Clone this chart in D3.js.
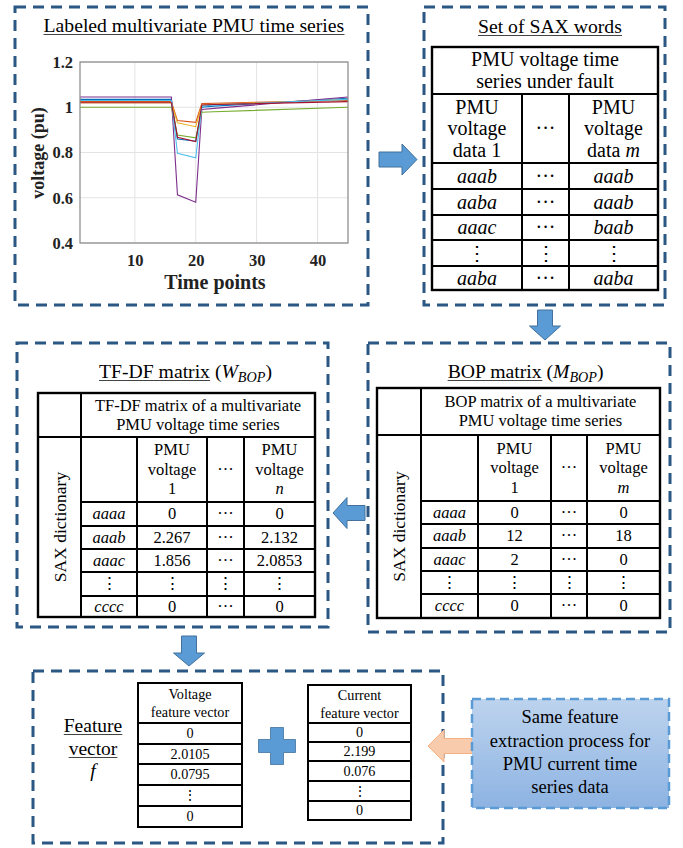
<!DOCTYPE html>
<html><head><meta charset="utf-8">
<script src="https://cdn.jsdelivr.net/npm/d3@7"></script>
</head>
<body style="margin:0;background:#fff">
<svg id="c" width="683" height="848" style="display:block"></svg>
<script>
// ---------------- DATA ----------------
const timePoints = [1, 16, 17, 20, 21, 23, 45];
const seriesNames = ["blue","orange","yellow","purple","green","cyan","red"];
const seriesColors = ["#0072BD","#D95319","#EDB120","#7E2F8E","#77AC30","#4DBEEE","#A2142F"];
const blueV   = [1.035, 1.035, 0.860, 0.850, 1.000, 1.005, 1.040];
const orangeV = [1.025, 1.025, 0.941, 0.933, 1.016, 1.018, 1.030];
const yellowV = [1.020, 1.020, 0.931, 0.914, 1.010, 1.012, 1.035];
const purpleV = [1.045, 1.045, 0.613, 0.580, 0.990, 0.995, 1.045];
const greenV  = [1.000, 1.000, 0.877, 0.865, 0.978, 0.980, 1.000];
const cyanV   = [1.030, 1.030, 0.796, 0.777, 1.005, 1.010, 1.035];
const redV    = [1.020, 1.020, 0.867, 0.848, 1.010, 1.012, 1.025];
const seriesValues = [blueV, orangeV, yellowV, purpleV, greenV, cyanV, redV];
const xTicks = [10, 20, 30, 40];
const yTicks = [0.4, 0.6, 0.8, 1, 1.2];

const saxHeader = ["PMU voltage time", "series under fault"];
const saxColHeads = [["PMU","voltage","data 1"], ["···"], ["PMU","voltage","data m"]];
const saxRows = [["aaab","···","aaab"],["aaba","···","aaab"],["aaac","···","baab"],["⋮","⋮","⋮"],["aaba","···","aaba"]];

const tfHeader = ["TF-DF matrix of a multivariate", "PMU voltage time series"];
const tfColHeads = [[], ["PMU","voltage","1"], ["···"], ["PMU","voltage","n"]];
const tfRows = [["aaaa","0","···","0"],["aaab","2.267","···","2.132"],["aaac","1.856","···","2.0853"],["⋮","⋮","⋮","⋮"],["cccc","0","···","0"]];

const bopHeader = ["BOP matrix of a multivariate", "PMU voltage time series"];
const bopColHeads = [[], ["PMU","voltage","1"], ["···"], ["PMU","voltage","m"]];
const bopRows = [["aaaa","0","···","0"],["aaab","12","···","18"],["aaac","2","···","0"],["⋮","⋮","⋮","⋮"],["cccc","0","···","0"]];

const voltHeader = ["Voltage", "feature vector"];
const voltVec = ["0","2.0105","0.0795","⋮","0"];
const currHeader = ["Current", "feature vector"];
const currVec = ["0","2.199","0.076","⋮","0"];
const sideText = ["Same feature","extraction process for","PMU current time","series data"];

// ---------------- DRAW ----------------
const FONT = "'Liberation Serif'";
const svg = d3.select("#c");
const DASH = "#2A5783";
const ABLUE = "#5B9BD5", ABORDER = "#41719C";
const italicWords = new Set(["aaaa","aaab","aaba","aaac","baab","cccc","m","n"]);

// approximate Times advance widths (1/1000 em), used instead of DOM measurement
const CW = {" ":250,a:444,b:500,c:444,d:500,e:444,f:333,g:500,h:500,i:278,j:278,k:500,l:278,m:778,n:500,o:500,p:500,q:500,r:333,s:389,t:278,u:500,v:500,w:722,x:500,y:500,z:444,
  A:722,B:667,C:667,D:722,E:611,F:556,G:722,H:722,I:333,J:389,K:722,L:611,M:889,N:722,O:722,P:556,Q:722,R:667,S:556,T:611,U:722,V:722,W:944,X:722,Y:722,Z:611,"-":333,"(":333,")":333,".":250};
function tw(str,size){ let s=0; for(const ch of str) s += (CW[ch]||500); return s*size/1000; }

function T(sel){ return sel.append("text").attr("font-size",16).style("font-family",FONT); }
function dashedBox(x0,y0,x1,y1){
  svg.append("rect").attr("x",x0).attr("y",y0).attr("width",x1-x0).attr("height",y1-y0)
    .attr("fill","none").attr("stroke",DASH).attr("stroke-width",3).attr("stroke-dasharray","11,7");
}
function title(cx, y, main, sub, size){
  const mw = tw(main,size);
  let w = mw;
  if (sub) w += tw(" (",size) + tw(sub[0],size)*0.9 + tw(sub[1],size*0.72)*0.95 + tw(")",size);
  const x0 = cx - w/2;
  const t = T(svg).attr("x",x0).attr("y",y).attr("font-size",size);
  t.append("tspan").text(main);
  if (sub){
    t.append("tspan").text(" (");
    t.append("tspan").attr("font-style","italic").text(sub[0]);
    t.append("tspan").attr("font-style","italic").attr("font-size",size*0.72).attr("dy",4).text(sub[1]);
    t.append("tspan").attr("dy",-4).text(")");
  }
  svg.append("line").attr("x1",x0).attr("x2",x0+mw).attr("y1",y+2.5).attr("y2",y+2.5)
    .attr("stroke","#444").attr("stroke-width",1);
}
function multiText(cx, cy, lines, size, lh){
  const n = lines.length;
  lines.forEach((ln,i)=>{
    const y = cy + (i-(n-1)/2)*lh + size*0.33;
    const t = T(svg).attr("x",cx).attr("y",y).attr("text-anchor","middle").attr("font-size",size);
    const parts = ln.split(" ");
    const last = parts[parts.length-1];
    if (parts.length>1 && (last==="m"||last==="n")){
      t.append("tspan").text(parts.slice(0,-1).join(" ")+" ");
      t.append("tspan").attr("font-style","italic").text(last);
    } else {
      t.text(ln);
      if (italicWords.has(ln)) t.attr("font-style","italic");
    }
  });
}
function hline(x0,x1,y,w,c){ svg.append("line").attr("x1",x0).attr("x2",x1).attr("y1",y).attr("y2",y).attr("stroke",c||"#000").attr("stroke-width",w||1.6); }
function vline(x,y0,y1,w){ svg.append("line").attr("x1",x).attr("x2",x).attr("y1",y0).attr("y2",y1).attr("stroke","#000").attr("stroke-width",w||1.6); }
function outline(x0,y0,x1,y1,w){ svg.append("rect").attr("x",x0).attr("y",y0).attr("width",x1-x0).attr("height",y1-y0).attr("fill","none").attr("stroke","#000").attr("stroke-width",w||2.2); }
function arrow(points, fill, stroke){
  svg.append("path").attr("d", d3.line()(points)+"Z").attr("fill",fill).attr("stroke",stroke).attr("stroke-width",1);
}
function rightArrow(x0,x1,cy,sh,hh,hl,fill,stroke){
  arrow([[x0,cy-sh/2],[x1-hl,cy-sh/2],[x1-hl,cy-hh/2],[x1,cy],[x1-hl,cy+hh/2],[x1-hl,cy+sh/2],[x0,cy+sh/2]],fill,stroke);
}
function leftArrow(x0,x1,cy,sh,hh,hl,fill,stroke){
  arrow([[x1,cy-sh/2],[x0+hl,cy-sh/2],[x0+hl,cy-hh/2],[x0,cy],[x0+hl,cy+hh/2],[x0+hl,cy+sh/2],[x1,cy+sh/2]],fill,stroke);
}
function downArrow(cx,y0,y1,sw,hw,hl,fill,stroke){
  arrow([[cx-sw/2,y0],[cx+sw/2,y0],[cx+sw/2,y1-hl],[cx+hw/2,y1-hl],[cx,y1],[cx-hw/2,y1-hl],[cx-sw/2,y1-hl]],fill,stroke);
}

const titleFS = 19.7, saxFS = 20, matFS = 16.5, vecFS = 14.2, featFS = 19.5, sideFS = 18.5;
const tickFS = 16.5, xlabFS = 20, ylabFS = 18, dictFS = 17.5;

// ---- Box 1: chart ----
dashedBox(15,7,368,305);
title(194,32,"Labeled multivariate PMU time series",null,titleFS);
const x = d3.scaleLinear().domain([1,45]).range([80,348]);
const y = d3.scaleLinear().domain([0.4,1.2]).range([243,62]);
const g = svg.append("g");
g.selectAll(".gx").data(xTicks).enter().append("line").attr("x1",d=>x(d)).attr("x2",d=>x(d)).attr("y1",y(0.4)).attr("y2",y(1.2)).attr("stroke","#e3e3e3").attr("stroke-width",1);
g.selectAll(".gy").data(yTicks).enter().append("line").attr("y1",d=>y(d)).attr("y2",d=>y(d)).attr("x1",x(1)).attr("x2",x(45)).attr("stroke","#e3e3e3").attr("stroke-width",1);
const line = d3.line().x((d,i)=>x(timePoints[i])).y(d=>y(d));
seriesValues.forEach((vals,k)=>{
  g.append("path").attr("d",line(vals)).attr("fill","none").attr("stroke",seriesColors[k]).attr("stroke-width",1.1);
});
const fmt = d3.format("~g");
const xa = g.append("g").attr("transform",`translate(0,${y(0.4)})`).call(d3.axisBottom(x).tickValues(xTicks).tickSize(0).tickPadding(11).tickFormat(fmt));
const ya = g.append("g").attr("transform",`translate(${x(1)},0)`).call(d3.axisLeft(y).tickValues(yTicks).tickSize(0).tickPadding(7).tickFormat(fmt));
[xa,ya].forEach(a=>{ a.attr("font-family",null).attr("font-size",null); a.select(".domain").remove(); a.selectAll("text").attr("font-size",tickFS).attr("font-weight","bold").style("font-family",FONT).attr("fill","#222"); });
g.append("rect").attr("x",x(1)).attr("y",y(1.2)).attr("width",x(45)-x(1)).attr("height",y(0.4)-y(1.2)).attr("fill","none").attr("stroke","#888").attr("stroke-width",1.2);
T(svg).attr("x",215).attr("y",289).attr("text-anchor","middle").attr("font-size",xlabFS).attr("font-weight","bold").attr("fill","#222").text("Time points");
T(svg).attr("transform","translate(44,153) rotate(-90)").attr("text-anchor","middle").attr("font-size",ylabFS).attr("font-weight","bold").attr("fill","#222").text("voltage (pu)");

rightArrow(379,417,159.5,15,31,15,ABLUE,ABORDER);

// ---- Box 2: SAX words ----
dashedBox(424,7,665,305);
title(550,33,"Set of SAX words",null,titleFS);
{
  const cols=[432,522,569,658], rows=[47,94,163,189,215,240,266,290];
  outline(cols[0],rows[0],cols[3],rows[7],2.4);
  rows.slice(1,-1).forEach(r=>hline(cols[0],cols[3],r,2));
  vline(cols[1],rows[1],rows[7],2); vline(cols[2],rows[1],rows[7],2);
  multiText((cols[0]+cols[3])/2,(rows[0]+rows[1])/2,saxHeader,saxFS,21.5);
  saxColHeads.forEach((h,i)=>multiText((cols[i]+cols[i+1])/2,(rows[1]+rows[2])/2,h,saxFS,21.5));
  saxRows.forEach((r,j)=>r.forEach((c,i)=>multiText((cols[i]+cols[i+1])/2,(rows[j+2]+rows[j+3])/2,[c],saxFS,20)));
}
downArrow(545,310,340,15,31,14,ABLUE,ABORDER);

function matrixTable(cols,rows,header,colHeads,data,fs){
  outline(cols[0],rows[0],cols[5],rows[7],2.4);
  hline(cols[0],cols[5],rows[1],2);
  rows.slice(2,-1).forEach(r=>hline(cols[1],cols[5],r,2));
  vline(cols[1],rows[0],rows[7],2);
  [2,3,4].forEach(i=>vline(cols[i],rows[1],rows[7],2));
  multiText((cols[1]+cols[5])/2,(rows[0]+rows[1])/2,header,fs,19);
  colHeads.forEach((h,i)=>{ if(h.length) multiText((cols[i+1]+cols[i+2])/2,(rows[1]+rows[2])/2,h,fs,19.5); });
  data.forEach((r,j)=>r.forEach((c,i)=>multiText((cols[i+1]+cols[i+2])/2,(rows[j+2]+rows[j+3])/2,[c],fs,18)));
  const cx=(cols[0]+cols[1])/2, cy=(rows[1]+rows[7])/2;
  T(svg).attr("transform",`translate(${cx+6},${cy}) rotate(-90)`).attr("text-anchor","middle").attr("font-size",dictFS).text("SAX dictionary");
}
// ---- Box 4: BOP ----
dashedBox(368,343,670,632);
title(525,378,"BOP matrix",["M","BOP"],titleFS);
matrixTable([377,421,478,551,587,660],[388,435,501,524,548,571,594,618],bopHeader,bopColHeads,bopRows,matFS);
leftArrow(333,365,513,15,31,14,ABLUE,ABORDER);

// ---- Box 3: TF-DF ----
dashedBox(17,343,328,627);
title(185,378,"TF-DF matrix",["W","BOP"],titleFS);
matrixTable([38,81,137,207,244,315],[393,437,502,526,549,572,596,617],tfHeader,tfColHeads,tfRows,matFS);
downArrow(189,636,666,15,31,13,ABLUE,ABORDER);

// ---- Box 5: Feature vector ----
dashedBox(33,671,443,843);
{
  T(svg).attr("x",93).attr("y",732).attr("text-anchor","middle").attr("font-size",featFS).text("Feature");
  T(svg).attr("x",93).attr("y",755).attr("text-anchor","middle").attr("font-size",featFS).text("vector");
  [["Feature",732],["vector",755]].forEach(([s,yy])=>{ const w=tw(s,featFS); hline(93-w/2,93+w/2,yy+2.5,1,"#444"); });
  T(svg).attr("x",93).attr("y",777).attr("text-anchor","middle").attr("font-size",featFS).attr("font-style","italic").text("f");
}
function vecTable(x0,x1,rows,header,vals){
  outline(x0,rows[0],x1,rows[6],2);
  rows.slice(1,-1).forEach(r=>hline(x0,x1,r,1.8));
  multiText((x0+x1)/2,(rows[0]+rows[1])/2,header,vecFS,18);
  vals.forEach((v,j)=>multiText((x0+x1)/2,(rows[j+1]+rows[j+2])/2,[v],vecFS,16));
}
vecTable(138,242,[683,723,744,764,785,806,827],voltHeader,voltVec);
vecTable(308,411,[685,723,742,761,781,801,820],currHeader,currVec);
{
  const cx=277, cy=746, L=18.5, Tk=6.5;
  svg.append("path").attr("d",`M${cx-Tk},${cy-L}H${cx+Tk}V${cy-Tk}H${cx+L}V${cy+Tk}H${cx+Tk}V${cy+L}H${cx-Tk}V${cy+Tk}H${cx-L}V${cy-Tk}H${cx-Tk}Z`)
    .attr("fill",ABLUE).attr("stroke",ABORDER).attr("stroke-width",0.8);
}
leftArrow(428,472,746,15,32,16,"#F8CBAD","#F4B183");
{
  const defs = svg.append("defs");
  const lg = defs.append("linearGradient").attr("id","sg").attr("x1",0).attr("y1",0).attr("x2",0).attr("y2",1);
  lg.append("stop").attr("offset","0%").attr("stop-color","#BDD3EE");
  lg.append("stop").attr("offset","100%").attr("stop-color","#8DB3E2");
  svg.append("rect").attr("x",472).attr("y",699).attr("width",197).attr("height",109)
    .attr("fill","url(#sg)").attr("stroke","#5B9BD5").attr("stroke-width",2.5).attr("stroke-dasharray","9,5");
  sideText.forEach((s,i)=>{
    T(svg).attr("x",570).attr("y",[723,747,770,793][i]).attr("text-anchor","middle").attr("font-size",sideFS).text(s);
  });
}
</script>
</body></html>
